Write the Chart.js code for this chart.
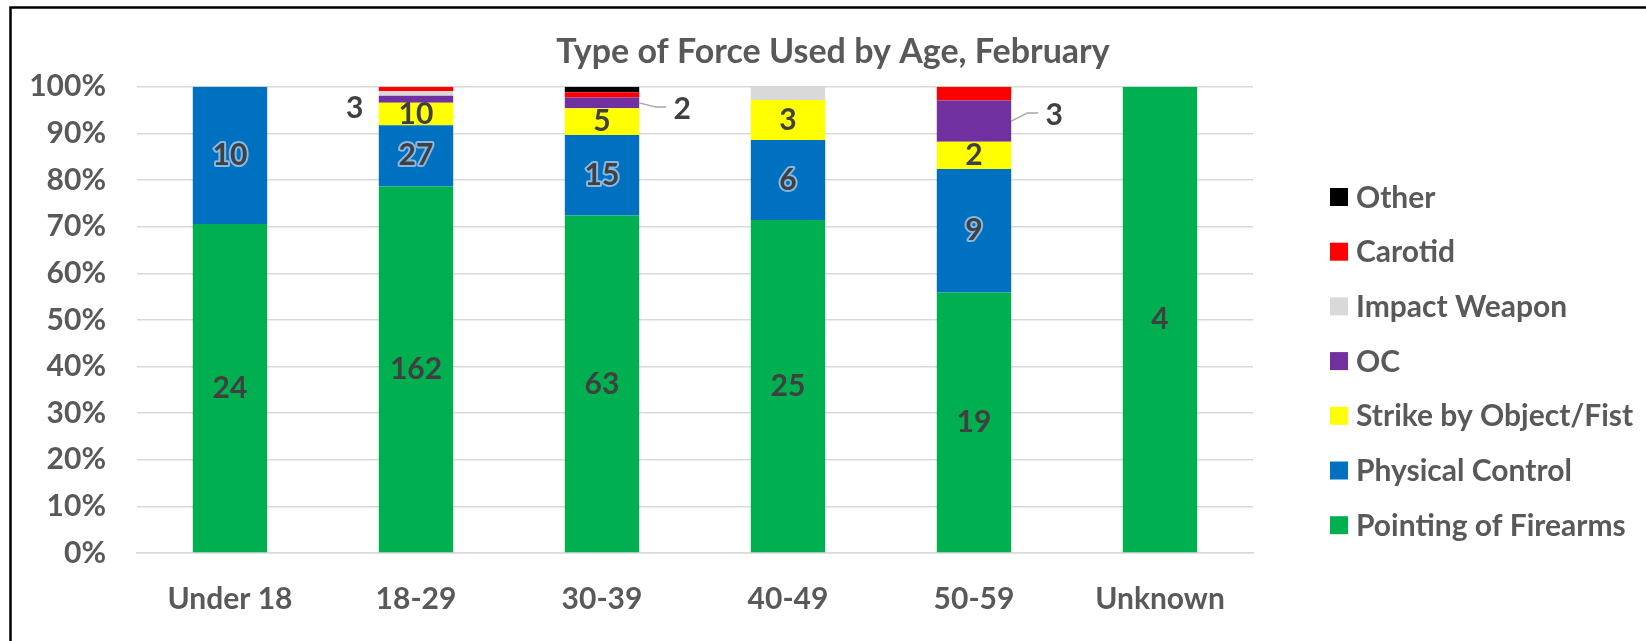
<!DOCTYPE html>
<html>
<head>
<meta charset="utf-8">
<script src="https://cdn.jsdelivr.net/npm/chart.js@4.4.0/dist/chart.umd.min.js"></script>
<style>
  html, body { margin: 0; padding: 0; background: #fff; }
  #wrap { width: 1646px; height: 641px; }
</style>
</head>
<body>
<div id="wrap"><canvas id="chartForce" width="1646" height="641"></canvas></div>
<script>
var ageGroups = ['Under 18', '18-29', '30-39', '40-49', '50-59', 'Unknown'];
var firearms  = [24, 162, 63, 25, 19, 4];
var physical  = [10, 27, 15, 6, 9, 0];
var strike    = [0, 10, 5, 3, 2, 0];
var oc        = [0, 3, 2, 0, 3, 0];
var impact    = [0, 2, 0, 1, 0, 0];
var carotid   = [0, 2, 1, 0, 1, 0];
var other     = [0, 0, 1, 0, 0, 0];
var pctTicks  = [0, 10, 20, 30, 40, 50, 60, 70, 80, 90, 100];

var series = [
  {label: 'Pointing of Firearms',  counts: firearms, color: '#00B050', labels: 'in'},
  {label: 'Physical Control',      counts: physical, color: '#0070C0', labels: 'glow'},
  {label: 'Strike by Object/Fist', counts: strike,   color: '#FFFF00', labels: 'in'},
  {label: 'OC',                    counts: oc,       color: '#7030A0', labels: 'out'},
  {label: 'Impact Weapon',         counts: impact,   color: '#D9D9D9', labels: null},
  {label: 'Carotid',               counts: carotid,  color: '#FF0000', labels: null},
  {label: 'Other',                 counts: other,    color: '#000000', labels: null}
];

var totals = ageGroups.map(function(g, i){
  var t = 0;
  series.forEach(function(s){ t += s.counts[i]; });
  return t;
});

var datasets = series.map(function(s){
  return {
    label: s.label,
    data: s.counts.map(function(v, i){ return v / totals[i] * 100; }),
    counts: s.counts,
    labelMode: s.labels,
    backgroundColor: s.color,
    borderWidth: 0,
    barPercentage: 0.4,
    categoryPercentage: 1.0
  };
});

// OC labels sit beside the bar: which side for each group
var ocSide = {'18-29': 'left', '30-39': 'right', '50-59': 'right'};

var FONT = 'Lato, "Noto Sans", sans-serif';

var frame = {
  id: 'frame',
  beforeDraw: function(chart){
    var c = chart.ctx;
    c.save();
    c.strokeStyle = '#000';
    c.lineWidth = 2.5;
    c.beginPath();
    c.moveTo(10.5, 700);
    c.lineTo(10.5, 7.5);
    c.lineTo(1700, 7.5);
    c.stroke();
    c.restore();
  }
};

var valueLabels = {
  id: 'valueLabels',
  afterDatasetsDraw: function(chart){
    var c = chart.ctx;
    c.save();
    c.font = 'bold 30px ' + FONT;
    c.textAlign = 'center';
    c.textBaseline = 'middle';
    chart.data.datasets.forEach(function(ds, di){
      if (!ds.labelMode) return;
      var meta = chart.getDatasetMeta(di);
      meta.data.forEach(function(bar, i){
        var v = ds.counts[i];
        if (!v) return;
        var cy = (bar.y + bar.base) / 2;
        var half = bar.width / 2;
        if (ds.labelMode === 'out') {
          var side = ocSide[ageGroups[i]];
          if (!side) return;
          c.fillStyle = '#404040';
          if (side === 'left') {
            c.fillText(String(v), bar.x - half - 24, cy + 9);
          } else {
            var lx = bar.x + half + 43, ly = cy + (i === 4 ? -6 : 6);
            var ex = lx - 16, ey = ly - 2;
            c.strokeStyle = '#a6a6a6';
            c.lineWidth = 1.5;
            c.beginPath();
            c.moveTo(bar.x + half, cy);
            c.lineTo(ex - 11, ey);
            c.lineTo(ex, ey);
            c.stroke();
            c.fillText(String(v), lx, ly);
          }
          return;
        }
        if (ds.labelMode === 'glow') {
          c.lineJoin = 'round';
          c.lineWidth = 4;
          c.strokeStyle = 'rgba(157,195,230,0.85)';
          c.strokeText(String(v), bar.x, cy);
        }
        c.fillStyle = '#404040';
        c.fillText(String(v), bar.x, cy);
      });
    });
    c.restore();
  }
};

var sideLegend = {
  id: 'sideLegend',
  afterDraw: function(chart){
    var c = chart.ctx;
    var items = chart.data.datasets.slice().reverse();
    c.save();
    c.font = 'bold 30px ' + FONT;
    c.textAlign = 'left';
    c.textBaseline = 'middle';
    items.forEach(function(ds, k){
      var y = 197 + k * 54.7;
      c.fillStyle = ds.backgroundColor;
      c.fillRect(1330, y - 9, 18, 18);
      c.fillStyle = '#595959';
      c.fillText(ds.label, 1356, y + 1);
    });
    c.restore();
  }
};

var cxt = document.getElementById('chartForce');
var barGraph = new Chart(cxt, {
  type: 'bar',
  data: { labels: ageGroups, datasets: datasets },
  plugins: [frame, valueLabels, sideLegend],
  options: {
    responsive: false,
    animation: false,
    layout: { padding: { left: 20, right: 0, top: 10, bottom: 0 } },
    plugins: {
      legend: { display: false },
      tooltip: { enabled: false },
      title: {
        display: true,
        text: 'Type of Force Used by Age, February',
        color: '#595959',
        font: { family: FONT, size: 34, weight: 'bold', lineHeight: 1.2 },
        padding: { top: 22, bottom: 14 }
      }
    },
    scales: {
      x: {
        stacked: true,
        grid: { display: false },
        border: { color: '#d9d9d9', width: 1.5 },
        ticks: { color: '#595959', padding: 20, font: { family: FONT, size: 30, weight: 'bold' } },
        afterFit: function(scale){ scale.height = 88; }
      },
      y: {
        stacked: true,
        min: 0,
        max: 100,
        afterBuildTicks: function(scale){
          scale.ticks = pctTicks.map(function(v){ return {value: v}; });
        },
        grid: { color: '#d9d9d9', lineWidth: 1.5, drawTicks: false },
        border: { display: false },
        ticks: {
          color: '#595959',
          padding: 31,
          font: { family: FONT, size: 30, weight: 'bold' },
          callback: function(v){ return v + '%'; }
        },
        afterFit: function(scale){ scale.width = 117; }
      },
      legendSpace: {
        position: 'right',
        display: true,
        grid: { display: false },
        border: { display: false },
        ticks: { display: false },
        afterFit: function(scale){ scale.width = 393; }
      }
    }
  }
});
</script>
</body>
</html>
